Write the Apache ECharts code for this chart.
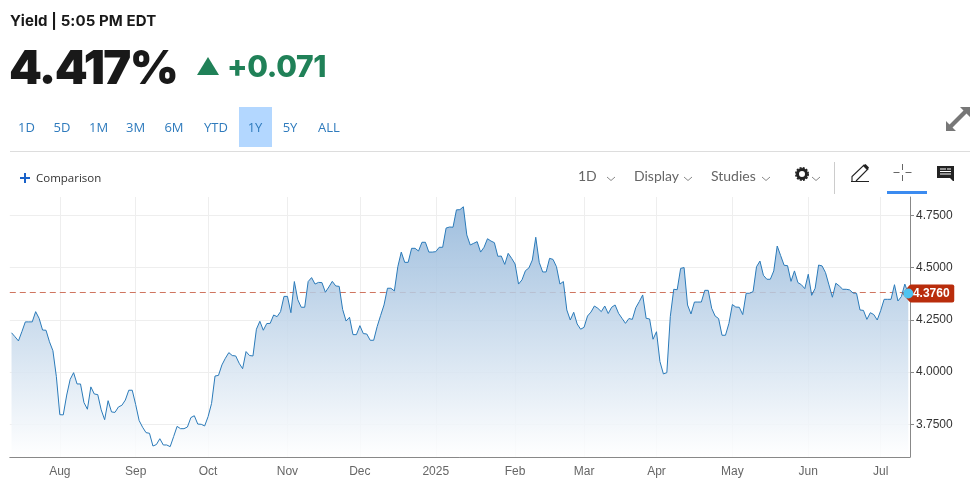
<!DOCTYPE html>
<html>
<head>
<meta charset="utf-8">
<title>Yield</title>
<script src="https://cdn.jsdelivr.net/npm/echarts@6/dist/echarts.min.js"></script>
<style>
  html, body { margin: 0; padding: 0; background: #fff; }
  body { width: 975px; height: 484px; position: relative; overflow: hidden; font-family: Inter, Arial, sans-serif; }
  #chart { position: absolute; left: 0; top: 0; width: 975px; height: 484px; }
  .t { position: absolute; white-space: nowrap; line-height: 1; }
  .range { font: 13px "Open Sans", Arial, sans-serif; color: #2f7bbd; top: 118px; transform: translateX(-50%); }
  .tool { font: 14px Lato, Arial, sans-serif; color: #666; top: 167px; }
  svg.t { overflow: visible; }
</style>
</head>
<body>
<div id="chart"></div>

<div class="t" style="left:10px;top:13px;font-size:15px;font-weight:700;color:#191919;letter-spacing:0.1px">Yield | 5:05 PM EDT</div>
<div class="t" style="left:9px;top:43px;font-size:47px;font-weight:900;color:#191919;letter-spacing:-1.6px">4.417%</div>
<svg class="t" style="left:197px;top:57px" width="22" height="18"><path d="M11 0L22 18H0Z" fill="#208158"/></svg>
<div class="t" style="left:227px;top:51px;font-size:30px;font-weight:800;color:#208158;letter-spacing:-0.3px">+0.071</div>

<div class="t" style="left:239px;top:107px;width:33px;height:40px;background:#b3d7ff"></div>
<div class="t range" style="left:26.5px">1D</div>
<div class="t range" style="left:62px">5D</div>
<div class="t range" style="left:98.7px">1M</div>
<div class="t range" style="left:135.7px">3M</div>
<div class="t range" style="left:174px">6M</div>
<div class="t range" style="left:216px">YTD</div>
<div class="t range" style="left:255px">1Y</div>
<div class="t range" style="left:290px">5Y</div>
<div class="t range" style="left:329px">ALL</div>

<svg class="t" style="left:946px;top:107px" width="24" height="24"><path d="M0 24V14L3.5 17.5L17.5 3.5L14 0H24V10L20.5 6.5L6.5 20.5L10 24Z" fill="#777"/></svg>
<div class="t" style="left:10px;top:151px;width:960px;height:1px;background:#ddd"></div>

<svg class="t" style="left:20px;top:173px" width="10" height="10"><path d="M5 0V10M0 5H10" stroke="#1a62c9" stroke-width="2"/></svg>
<div class="t" style="left:36px;top:170px;font:11.5px 'Open Sans',Arial,sans-serif;color:#333">Comparison</div>

<div class="t tool" style="left:578px">1D</div>
<div class="t tool" style="left:634px">Display</div>
<div class="t tool" style="left:711px">Studies</div>
<svg class="t" style="left:0;top:0" width="975" height="200">
  <g fill="none" stroke="#888" stroke-width="1">
    <path d="M607 177l4 3.5l4-3.5"/>
    <path d="M684 177l4 3.5l4-3.5"/>
    <path d="M762 177l4 3.5l4-3.5"/>
    <path d="M812 177l4 3.5l4-3.5"/>
  </g>
  <circle cx="802" cy="174" r="4.5" fill="none" stroke="#222" stroke-width="3"/>
  <circle cx="802" cy="174" r="6.2" fill="none" stroke="#222" stroke-width="1.6" stroke-dasharray="2 1.25"/>
  <path d="M834.5 162V194" stroke="#ccc"/>
  <path d="M851 181.5h18M852 181.5v-5L864 165l4 4L856 181" fill="none" stroke="#222" stroke-width="1.1"/>
  <path d="M863 166l4 4l2-2.5l-3.5-3.5Z" fill="#222"/>
  <path d="M902.5 164v6M902.5 175v6M893.5 172.5h6M905.5 172.5h6" stroke="#666"/>
  <rect x="887" y="191" width="40" height="3" fill="#3b8bf0"/>
  <path d="M937 166h17v15h-1l-3-3h-13Z" fill="#222"/>
  <path d="M940 169h6M940 171.5h11M940 174h11M947 169h4" stroke="#fff" stroke-width="1"/>
</svg>

<script>
// trading day closes
const yields = [
  4.188, 4.169, 4.149, 4.193, 4.240, 4.240, 4.240, 4.289, 4.257, 4.201,
  4.200, 4.145, 4.102, 3.978, 3.796, 3.795, 3.890, 3.965, 3.997, 3.943,
  3.943, 3.854, 3.822, 3.929, 3.895, 3.892, 3.819, 3.772, 3.863, 3.809,
  3.807, 3.833, 3.841, 3.866, 3.913, 3.913, 3.844, 3.768, 3.736, 3.710,
  3.707, 3.646, 3.653, 3.681, 3.651, 3.651, 3.643, 3.691, 3.740, 3.729,
  3.729, 3.737, 3.782, 3.791, 3.751, 3.750, 3.742, 3.787, 3.850, 3.981,
  3.984, 4.034, 4.066, 4.093, 4.079, 4.077, 4.042, 4.016, 4.098, 4.079,
  4.077, 4.205, 4.243, 4.200, 4.232, 4.233, 4.273, 4.265, 4.289, 4.362,
  4.362, 4.284, 4.433, 4.346, 4.310, 4.310, 4.433, 4.452, 4.421, 4.429,
  4.428, 4.382, 4.407, 4.434, 4.412, 4.410, 4.300, 4.244, 4.262, 4.179,
  4.179, 4.222, 4.184, 4.182, 4.152, 4.152, 4.217, 4.270, 4.321, 4.401,
  4.401, 4.388, 4.504, 4.574, 4.525, 4.525, 4.592, 4.592, 4.579, 4.621,
  4.621, 4.574, 4.574, 4.576, 4.597, 4.597, 4.689, 4.694, 4.693, 4.776,
  4.777, 4.791, 4.656, 4.608, 4.616, 4.624, 4.574, 4.597, 4.638, 4.627,
  4.619, 4.554, 4.555, 4.515, 4.568, 4.544, 4.517, 4.421, 4.441, 4.485,
  4.498, 4.536, 4.645, 4.525, 4.479, 4.479, 4.544, 4.539, 4.504, 4.421,
  4.433, 4.297, 4.249, 4.286, 4.230, 4.205, 4.214, 4.268, 4.287, 4.316,
  4.305, 4.289, 4.316, 4.280, 4.310, 4.321, 4.281, 4.257, 4.233, 4.256,
  4.252, 4.308, 4.337, 4.369, 4.257, 4.254, 4.157, 4.193, 4.050, 3.991,
  3.997, 4.265, 4.396, 4.394, 4.496, 4.500, 4.321, 4.278, 4.335, 4.335,
  4.335, 4.391, 4.391, 4.305, 4.268, 4.256, 4.176, 4.176, 4.233, 4.323,
  4.311, 4.310, 4.275, 4.377, 4.377, 4.385, 4.504, 4.531, 4.463, 4.444,
  4.444, 4.484, 4.603, 4.557, 4.511, 4.509, 4.434, 4.484, 4.428, 4.418,
  4.399, 4.468, 4.367, 4.401, 4.512, 4.508, 4.476, 4.417, 4.358, 4.425,
  4.412, 4.396, 4.396, 4.393, 4.378, 4.377, 4.297, 4.295, 4.252, 4.284,
  4.275, 4.249, 4.294, 4.348, 4.348, 4.348, 4.418, 4.340, 4.361, 4.421,
  4.376
]
const monthIndex = [14, 36, 57, 80, 101, 123, 146, 166, 187, 209, 231, 252]
const monthLabels = ['Aug', 'Sep', 'Oct', 'Nov', 'Dec', '2025', 'Feb', 'Mar', 'Apr', 'May', 'Jun', 'Jul']
const yTicks = [3.75, 4.0, 4.25, 4.5, 4.75]
const lastValue = 4.376

const chart = echarts.init(document.getElementById('chart'), null, { renderer: 'canvas' })
const isMonth = (i) => monthIndex.includes(i)

chart.setOption({
  animation: false,
  textStyle: { fontFamily: '"Liberation Sans", Arial, sans-serif' },
  grid: { left: 9.8, right: 65, top: 197, bottom: 27 },
  xAxis: {
    type: 'category',
    data: yields.map((_, i) => i),
    boundaryGap: true,
    axisLine: { lineStyle: { color: '#888' } },
    axisTick: { interval: isMonth, alignWithLabel: true, length: 4, lineStyle: { color: '#888' } },
    axisLabel: {
      interval: isMonth,
      formatter: (v) => monthLabels[monthIndex.indexOf(Number(v))],
      fontSize: 12,
      color: '#666',
      margin: 9
    },
    splitLine: { show: true, interval: isMonth, alignWithLabel: true, lineStyle: { color: '#eee' } }
  },
  yAxis: {
    type: 'value',
    position: 'right',
    min: 3.5935,
    max: 4.8376,
    axisLine: { show: true, lineStyle: { color: '#888' } },
    axisTick: { show: true, customValues: yTicks, length: 4, lineStyle: { color: '#888' } },
    axisLabel: {
      customValues: yTicks,
      formatter: (v) => v.toFixed(4),
      fontSize: 12,
      color: '#333',
      margin: 6
    },
    splitLine: { show: true, lineStyle: { color: '#eee' } }
  },
  series: [
    {
      // last price line sits behind the area
      type: 'line',
      z: 1,
      data: [],
      silent: true,
      markLine: {
        silent: true,
        z: 1,
        symbol: 'none',
        label: { show: false },
        lineStyle: { color: '#cf7560', type: [6, 4], width: 1 },
        data: [{ yAxis: lastValue }]
      }
    },
    {
      type: 'line',
      z: 3,
      data: yields,
      symbol: 'none',
      lineStyle: { color: '#2a7ab9', width: 1 },
      areaStyle: {
        opacity: 1,
        color: new echarts.graphic.LinearGradient(0, 0, 0, 1, [
          { offset: 0, color: 'rgba(142,179,216,0.85)' },
          { offset: 1, color: 'rgba(255,255,255,0.85)' }
        ])
      },
      markPoint: {
        silent: true,
        animation: false,
        data: [
          {
            coord: [yields.length - 1, lastValue],
            symbol: 'path://M0 9L7 1Q8 0 9 0H50Q52 0 52 2V16Q52 18 50 18H9Q8 18 7 17Z',
            symbolSize: [52, 18],
            symbolKeepAspect: false,
            symbolOffset: [20, 0],
            itemStyle: { color: '#b92d0c' },
            label: {
              show: true,
              formatter: lastValue.toFixed(4),
              color: '#fff',
              fontSize: 12,
              fontWeight: 'bold',
              offset: [3, 0]
            }
          },
          {
            coord: [yields.length - 1, lastValue],
            symbol: 'circle',
            symbolSize: 10,
            itemStyle: { color: '#4fc3f0' },
            label: { show: false }
          }
        ]
      }
    }
  ]
})
window.addEventListener('resize', () => chart.resize())
</script>
</body>
</html>
